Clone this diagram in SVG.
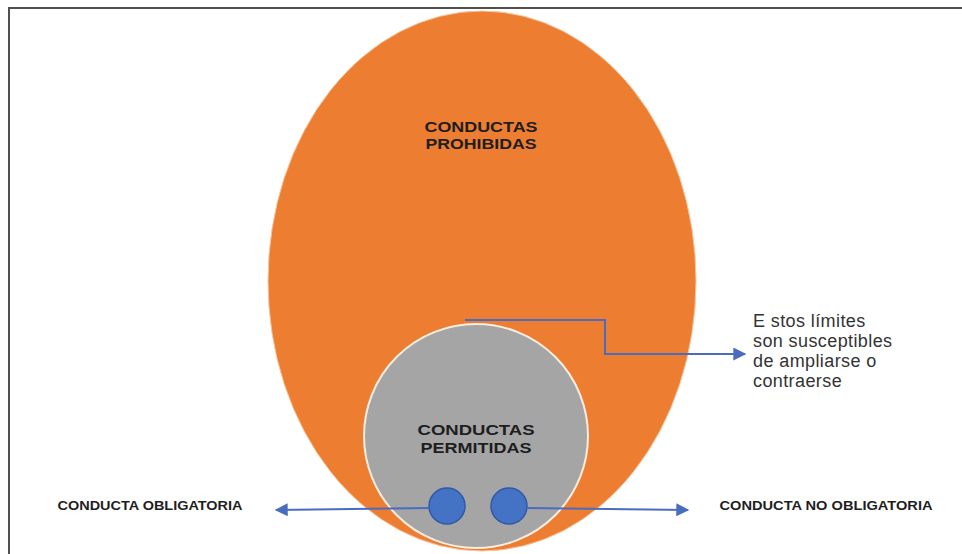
<svg xmlns="http://www.w3.org/2000/svg" width="962" height="554" viewBox="0 0 962 554">
<style>
.bold{font-family:"Liberation Sans",Arial,sans-serif;font-weight:bold;fill:#1e1e1e;text-anchor:middle}
.note{font-family:"Liberation Sans",Arial,sans-serif;font-size:18px;letter-spacing:0.4px;fill:#333}
.conn{fill:none;stroke:#4a6cc0;stroke-width:2}
.dot{fill:#4472C4;stroke:#2f5aa8;stroke-width:1.5}
</style>
<defs>
<marker id="ahb" viewBox="0 0 10 10" refX="9" refY="5" markerWidth="15" markerHeight="13" markerUnits="userSpaceOnUse" orient="auto">
<path d="M0,0 L10,5 L0,10 Z" fill="#4a6cc0"/>
</marker>
</defs>
<rect width="962" height="554" fill="#ffffff"/>
<path d="M9,554 L9,8 L962,8" fill="none" stroke="#505050" stroke-width="2"/>

<g id="prohibidas">
<ellipse cx="482" cy="281" rx="214" ry="270" fill="#ED7D31" stroke="#f6c79e" stroke-width="1"/>
<text class="bold" font-size="15" x="481" y="132" textLength="113" lengthAdjust="spacingAndGlyphs">CONDUCTAS</text>
<text class="bold" font-size="15" x="481" y="149" textLength="111" lengthAdjust="spacingAndGlyphs">PROHIBIDAS</text>
</g>

<g id="permitidas">
<circle cx="476" cy="436" r="112" fill="#A5A5A5" stroke="#fbeee0" stroke-width="2"/>
<text class="bold" font-size="15" x="476" y="435" textLength="117" lengthAdjust="spacingAndGlyphs">CONDUCTAS</text>
<text class="bold" font-size="15" x="476" y="453" textLength="111" lengthAdjust="spacingAndGlyphs">PERMITIDAS</text>
</g>

<g id="dot-obligatoria">
<circle class="dot" cx="447" cy="506" r="18"/>
</g>
<g id="dot-no-obligatoria">
<circle class="dot" cx="509" cy="506" r="18"/>
</g>

<g id="obligatoria">
<text class="bold" font-size="13" x="150" y="510" textLength="185" lengthAdjust="spacingAndGlyphs">CONDUCTA OBLIGATORIA</text>
</g>
<g id="no-obligatoria">
<text class="bold" font-size="13" x="826" y="510" textLength="213" lengthAdjust="spacingAndGlyphs">CONDUCTA NO OBLIGATORIA</text>
</g>

<g id="nota">
<text class="note" x="753" y="327">E stos límites</text>
<text class="note" x="753" y="347">son susceptibles</text>
<text class="note" x="753" y="367">de ampliarse o</text>
<text class="note" x="753" y="387">contraerse</text>
</g>

<g id="connectors">
<path class="conn" d="M465,320 L605,320 L605,354 L745,354" marker-end="url(#ahb)"/>
<path class="conn" d="M429,508 L276,510" marker-end="url(#ahb)"/>
<path class="conn" d="M527,508 L688,510" marker-end="url(#ahb)"/>
</g>
</svg>
